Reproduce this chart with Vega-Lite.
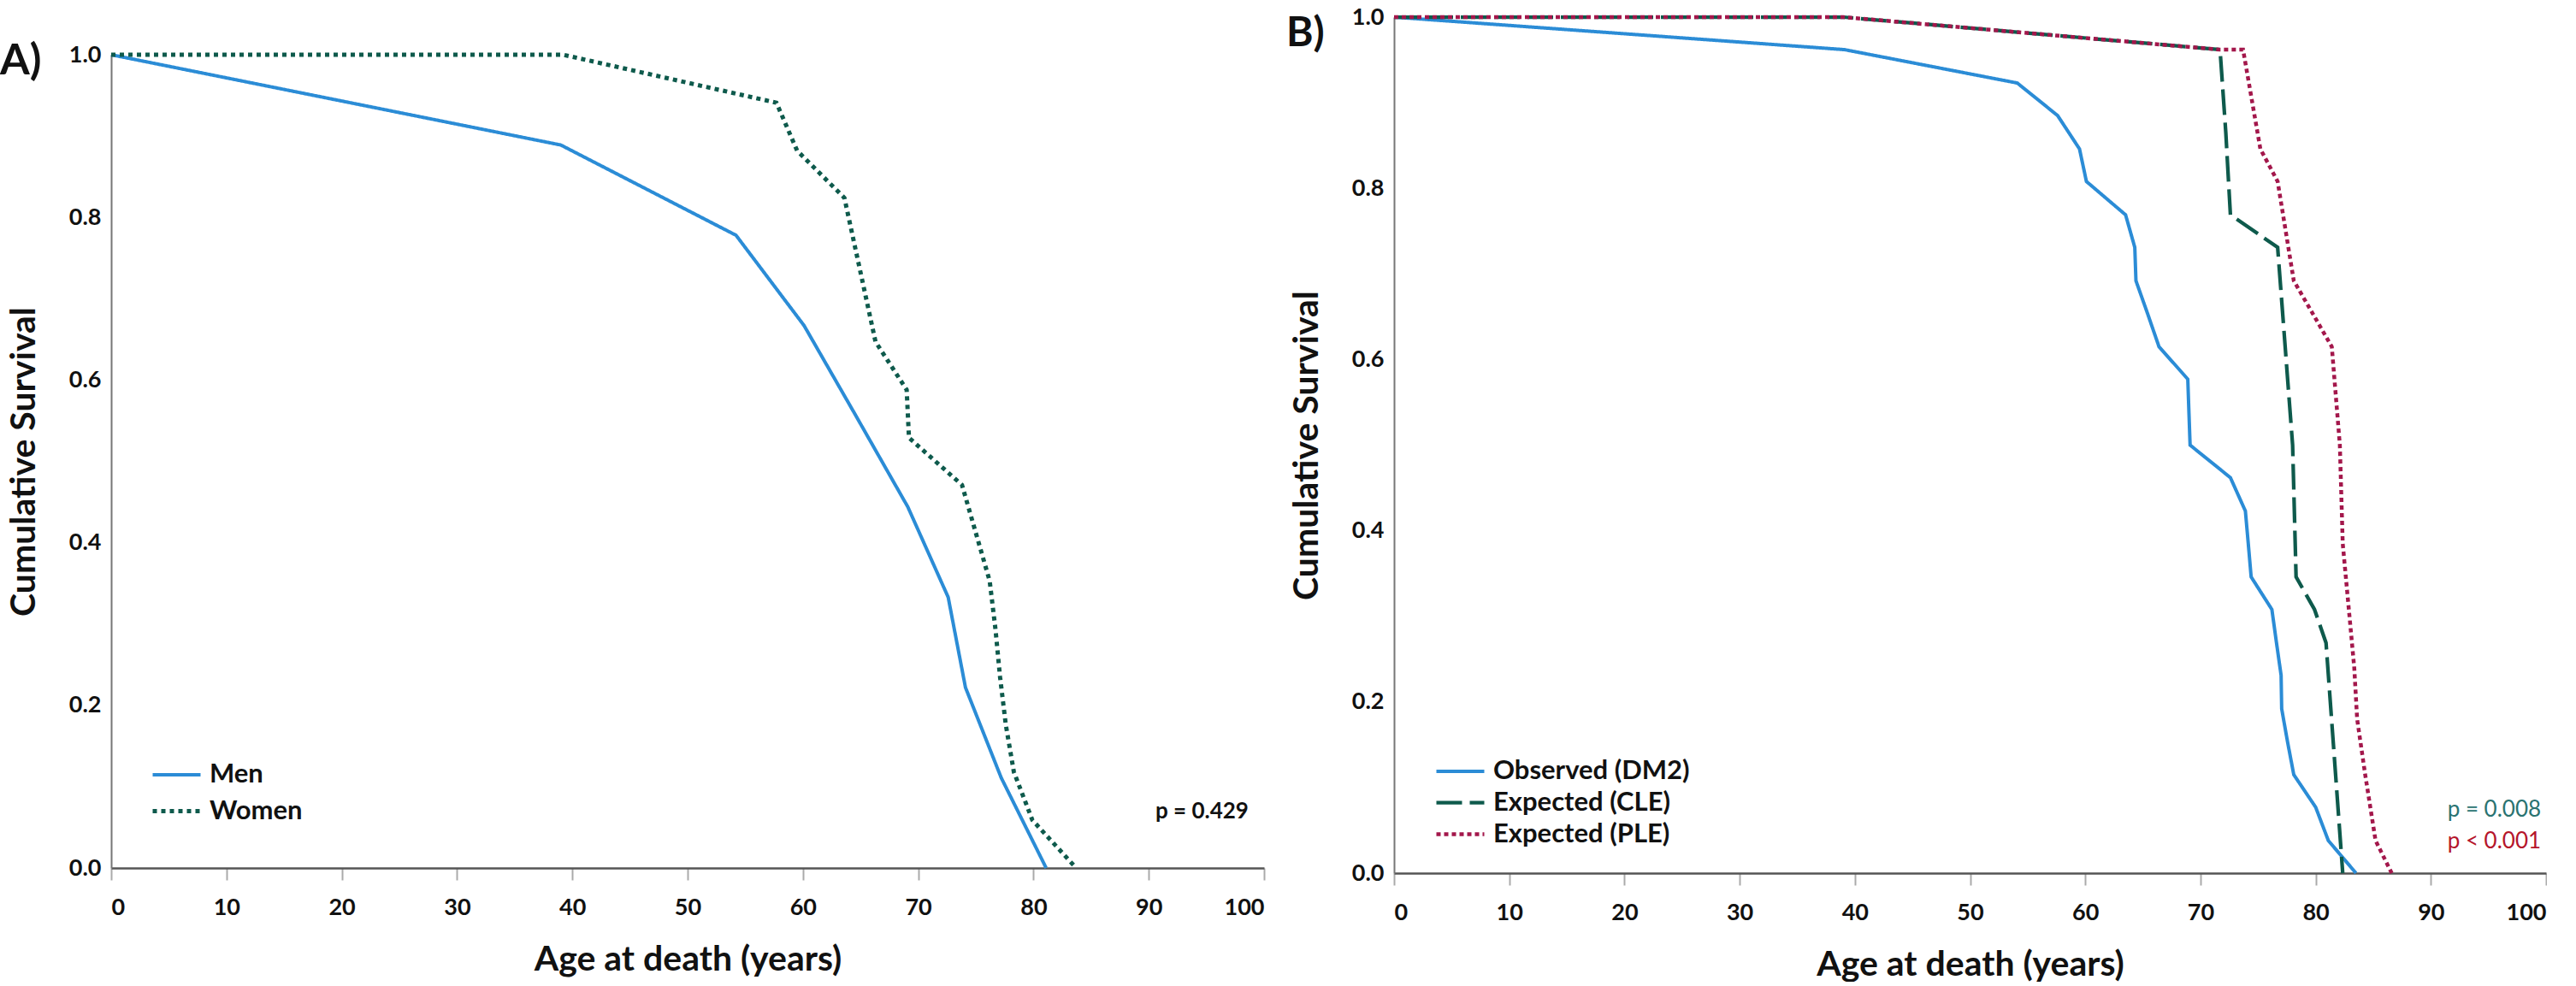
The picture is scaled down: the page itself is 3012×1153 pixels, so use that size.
{
  "$schema": "https://vega.github.io/schema/vega-lite/v6.json",
  "background": "white",
  "padding": {"left": 0, "top": 6, "right": 0, "bottom": 0},
  "spacing": 25,
  "config": {
    "font": "Lato",
    "view": {"stroke": null},
    "axis": {"grid": false, "labelFont": "Lato", "labelFontSize": 27, "labelFontWeight": "bold", "labelColor": "#111111", "titleFont": "Lato", "titleFontSize": 41, "titleFontWeight": "bold", "titleColor": "#111111"},
    "axisX": {"tickColor": "#aaaaaa", "tickWidth": 2, "tickSize": 14, "labelPadding": 19, "titlePadding": 28, "domainColor": "#555555", "domainWidth": 2.5},
    "axisY": {"ticks": false, "labelPadding": 12, "titlePadding": 31, "domainColor": "#777777", "domainWidth": 2}
  },
  "datasets": {
    "sexes": [
      {"age": 0, "surv": 1, "group": "Men"},
      {"age": 39.0, "surv": 0.889, "group": "Men"},
      {"age": 54.2, "surv": 0.778, "group": "Men"},
      {"age": 60.1, "surv": 0.667, "group": "Men"},
      {"age": 64.6, "surv": 0.556, "group": "Men"},
      {"age": 69.1, "surv": 0.444, "group": "Men"},
      {"age": 72.6, "surv": 0.333, "group": "Men"},
      {"age": 74.1, "surv": 0.222, "group": "Men"},
      {"age": 77.2, "surv": 0.111, "group": "Men"},
      {"age": 81.1, "surv": 0, "group": "Men"},
      {"age": 0, "surv": 1, "group": "Women"},
      {"age": 39.2, "surv": 1, "group": "Women"},
      {"age": 57.7, "surv": 0.941, "group": "Women"},
      {"age": 59.5, "surv": 0.882, "group": "Women"},
      {"age": 63.6, "surv": 0.824, "group": "Women"},
      {"age": 64.5, "surv": 0.765, "group": "Women"},
      {"age": 65.4, "surv": 0.706, "group": "Women"},
      {"age": 66.3, "surv": 0.647, "group": "Women"},
      {"age": 69.0, "surv": 0.588, "group": "Women"},
      {"age": 69.2, "surv": 0.529, "group": "Women"},
      {"age": 73.8, "surv": 0.471, "group": "Women"},
      {"age": 75.0, "surv": 0.412, "group": "Women"},
      {"age": 76.2, "surv": 0.353, "group": "Women"},
      {"age": 76.7, "surv": 0.294, "group": "Women"},
      {"age": 77.1, "surv": 0.235, "group": "Women"},
      {"age": 77.6, "surv": 0.176, "group": "Women"},
      {"age": 78.3, "surv": 0.118, "group": "Women"},
      {"age": 79.9, "surv": 0.059, "group": "Women"},
      {"age": 83.7, "surv": 0, "group": "Women"}
    ],
    "dm2": [
      {"age": 0, "surv": 1, "group": "Observed (DM2)"},
      {"age": 39.1, "surv": 0.962, "group": "Observed (DM2)"},
      {"age": 54.1, "surv": 0.923, "group": "Observed (DM2)"},
      {"age": 57.6, "surv": 0.885, "group": "Observed (DM2)"},
      {"age": 59.5, "surv": 0.846, "group": "Observed (DM2)"},
      {"age": 60.1, "surv": 0.808, "group": "Observed (DM2)"},
      {"age": 63.5, "surv": 0.769, "group": "Observed (DM2)"},
      {"age": 64.3, "surv": 0.731, "group": "Observed (DM2)"},
      {"age": 64.4, "surv": 0.692, "group": "Observed (DM2)"},
      {"age": 65.4, "surv": 0.654, "group": "Observed (DM2)"},
      {"age": 66.4, "surv": 0.615, "group": "Observed (DM2)"},
      {"age": 68.9, "surv": 0.577, "group": "Observed (DM2)"},
      {"age": 69.0, "surv": 0.538, "group": "Observed (DM2)"},
      {"age": 69.1, "surv": 0.5, "group": "Observed (DM2)"},
      {"age": 72.6, "surv": 0.462, "group": "Observed (DM2)"},
      {"age": 73.9, "surv": 0.423, "group": "Observed (DM2)"},
      {"age": 74.15, "surv": 0.385, "group": "Observed (DM2)"},
      {"age": 74.4, "surv": 0.346, "group": "Observed (DM2)"},
      {"age": 76.2, "surv": 0.308, "group": "Observed (DM2)"},
      {"age": 76.6, "surv": 0.269, "group": "Observed (DM2)"},
      {"age": 77.0, "surv": 0.231, "group": "Observed (DM2)"},
      {"age": 77.05, "surv": 0.192, "group": "Observed (DM2)"},
      {"age": 77.55, "surv": 0.154, "group": "Observed (DM2)"},
      {"age": 78.1, "surv": 0.115, "group": "Observed (DM2)"},
      {"age": 80.0, "surv": 0.077, "group": "Observed (DM2)"},
      {"age": 81.1, "surv": 0.038, "group": "Observed (DM2)"},
      {"age": 83.5, "surv": 0, "group": "Observed (DM2)"},
      {"age": 0, "surv": 1, "group": "Expected (CLE)"},
      {"age": 39.0, "surv": 1, "group": "Expected (CLE)"},
      {"age": 71.7, "surv": 0.962, "group": "Expected (CLE)"},
      {"age": 72.2, "surv": 0.865, "group": "Expected (CLE)"},
      {"age": 72.6, "surv": 0.769, "group": "Expected (CLE)"},
      {"age": 76.7, "surv": 0.731, "group": "Expected (CLE)"},
      {"age": 78.0, "surv": 0.5, "group": "Expected (CLE)"},
      {"age": 78.3, "surv": 0.346, "group": "Expected (CLE)"},
      {"age": 79.9, "surv": 0.308, "group": "Expected (CLE)"},
      {"age": 80.9, "surv": 0.269, "group": "Expected (CLE)"},
      {"age": 82.35, "surv": 0, "group": "Expected (CLE)"},
      {"age": 0, "surv": 1, "group": "Expected (PLE)"},
      {"age": 39.0, "surv": 1, "group": "Expected (PLE)"},
      {"age": 71.7, "surv": 0.962, "group": "Expected (PLE)"},
      {"age": 73.7, "surv": 0.962, "group": "Expected (PLE)"},
      {"age": 75.2, "surv": 0.846, "group": "Expected (PLE)"},
      {"age": 76.7, "surv": 0.808, "group": "Expected (PLE)"},
      {"age": 78.1, "surv": 0.692, "group": "Expected (PLE)"},
      {"age": 81.4, "surv": 0.615, "group": "Expected (PLE)"},
      {"age": 82.1, "surv": 0.5, "group": "Expected (PLE)"},
      {"age": 82.35, "surv": 0.385, "group": "Expected (PLE)"},
      {"age": 83.35, "surv": 0.24, "group": "Expected (PLE)"},
      {"age": 83.6, "surv": 0.18, "group": "Expected (PLE)"},
      {"age": 84.3, "surv": 0.115, "group": "Expected (PLE)"},
      {"age": 85.2, "surv": 0.038, "group": "Expected (PLE)"},
      {"age": 86.6, "surv": 0, "group": "Expected (PLE)"}
    ],
    "pA": [{"age": 98.66, "surv": 0.069, "label": "p = 0.429"}],
    "pB": [
      {"age": 99.56, "surv": 0.074, "label": "p = 0.008", "test": "CLE"},
      {"age": 99.56, "surv": 0.037, "label": "p < 0.001", "test": "PLE"}
    ]
  },
  "resolve": {"scale": {"color": "independent", "strokeDash": "independent", "strokeWidth": "independent"}, "legend": {"color": "independent", "strokeDash": "independent"}},
  "hconcat": [
    {
      "width": 1348,
      "height": 995,
      "title": {"text": "A)", "anchor": "start", "frame": "group", "orient": "top", "fontSize": 50, "fontWeight": "bold", "color": "#111111", "baseline": "middle", "offset": -61, "dx": -130, "dy": 41},
      "layer": [
        {
          "mark": {"type": "rule", "color": "#c8c8c8", "strokeWidth": 4, "strokeDash": [7, 15]},
          "encoding": {"y": {"datum": 0.5, "type": "quantitative"}}
        },
        {
          "data": {"name": "sexes"},
          "mark": {"type": "line"},
          "encoding": {
            "x": {"field": "age", "type": "quantitative", "title": "Age at death (years)", "scale": {"domain": [0, 100], "nice": false}, "axis": {"values": [0, 10, 20, 30, 40, 50, 60, 70, 80, 90, 100]}},
            "y": {"field": "surv", "type": "quantitative", "title": "Cumulative Survival", "scale": {"domain": [0, 1], "nice": false, "range": [995, 44]}, "axis": {"values": [0, 0.2, 0.4, 0.6, 0.8, 1.0], "format": ".1f"}},
            "strokeWidth": {"field": "group", "type": "nominal", "scale": {"domain": ["Men", "Women"], "range": [4, 5]}, "legend": null},
            "color": {"field": "group", "type": "nominal", "scale": {"domain": ["Men", "Women"], "range": ["#2b8cd6", "#0e5a4c"]},
              "legend": {"orient": "none", "legendX": 60, "legendY": 870, "title": null, "symbolType": "M-2,0H2", "symbolSize": 784, "symbolStrokeWidth": 4, "labelFontSize": 31, "labelFontWeight": "bold", "labelColor": "#111111", "labelLimit": 600, "rowPadding": 11, "labelOffset": 22}},
            "strokeDash": {"field": "group", "type": "nominal", "scale": {"domain": ["Men", "Women"], "range": [[1, 0], [5, 5]]},
              "legend": {"orient": "none", "legendX": 60, "legendY": 870, "title": null, "symbolType": "M-2,0H2", "symbolSize": 784, "symbolStrokeWidth": 4, "labelFontSize": 31, "labelFontWeight": "bold", "labelColor": "#111111", "labelLimit": 600, "rowPadding": 11, "labelOffset": 22}}
          }
        },
        {
          "data": {"name": "pA"},
          "mark": {"type": "text", "align": "right", "baseline": "middle", "fontSize": 26, "fontWeight": "bold", "color": "#111111"},
          "encoding": {
            "x": {"field": "age", "type": "quantitative"},
            "y": {"field": "surv", "type": "quantitative"},
            "text": {"field": "label"}
          }
        }
      ]
    },
    {
      "width": 1347,
      "height": 1001,
      "title": {"text": "B)", "anchor": "start", "frame": "group", "orient": "top", "fontSize": 48, "fontWeight": "bold", "color": "#111111", "baseline": "middle", "offset": -61, "dx": -126, "dy": 21},
      "layer": [
        {
          "mark": {"type": "rule", "color": "#c8c8c8", "strokeWidth": 4, "strokeDash": [7, 15]},
          "encoding": {"y": {"datum": 0.5, "type": "quantitative"}}
        },
        {
          "data": {"name": "dm2"},
          "mark": {"type": "line"},
          "encoding": {
            "x": {"field": "age", "type": "quantitative", "title": "Age at death (years)", "scale": {"domain": [0, 100], "nice": false}, "axis": {"values": [0, 10, 20, 30, 40, 50, 60, 70, 80, 90, 100]}},
            "y": {"field": "surv", "type": "quantitative", "title": "Cumulative Survival", "scale": {"domain": [0, 1], "nice": false}, "axis": {"values": [0, 0.2, 0.4, 0.6, 0.8, 1.0], "format": ".1f"}},
            "strokeWidth": {"field": "group", "type": "nominal", "scale": {"domain": ["Observed (DM2)", "Expected (CLE)", "Expected (PLE)"], "range": [4, 4.5, 4.5]}, "legend": null},
            "color": {"field": "group", "type": "nominal", "scale": {"domain": ["Observed (DM2)", "Expected (CLE)", "Expected (PLE)"], "range": ["#2b8cd6", "#0e5a4c", "#a3174b"]},
              "legend": {"orient": "none", "legendX": 61, "legendY": 866, "title": null, "symbolType": "M-2,0H2", "symbolSize": 784, "symbolStrokeWidth": 4, "labelFontSize": 31, "labelFontWeight": "bold", "labelColor": "#111111", "labelLimit": 600, "rowPadding": 5, "labelOffset": 22}},
            "strokeDash": {"field": "group", "type": "nominal", "scale": {"domain": ["Observed (DM2)", "Expected (CLE)", "Expected (PLE)"], "range": [[1, 0], [30, 9], [5, 4]]},
              "legend": {"orient": "none", "legendX": 61, "legendY": 866, "title": null, "symbolType": "M-2,0H2", "symbolSize": 784, "symbolStrokeWidth": 4, "labelFontSize": 31, "labelFontWeight": "bold", "labelColor": "#111111", "labelLimit": 600, "rowPadding": 5, "labelOffset": 22}}
          }
        },
        {
          "data": {"name": "pB"},
          "transform": [{"filter": "datum.test === 'CLE'"}],
          "mark": {"type": "text", "align": "right", "baseline": "middle", "fontSize": 26, "color": "#2a7371"},
          "encoding": {
            "x": {"field": "age", "type": "quantitative"},
            "y": {"field": "surv", "type": "quantitative"},
            "text": {"field": "label"}
          }
        },
        {
          "data": {"name": "pB"},
          "transform": [{"filter": "datum.test === 'PLE'"}],
          "mark": {"type": "text", "align": "right", "baseline": "middle", "fontSize": 26, "color": "#b5152b"},
          "encoding": {
            "x": {"field": "age", "type": "quantitative"},
            "y": {"field": "surv", "type": "quantitative"},
            "text": {"field": "label"}
          }
        }
      ]
    }
  ]
}
